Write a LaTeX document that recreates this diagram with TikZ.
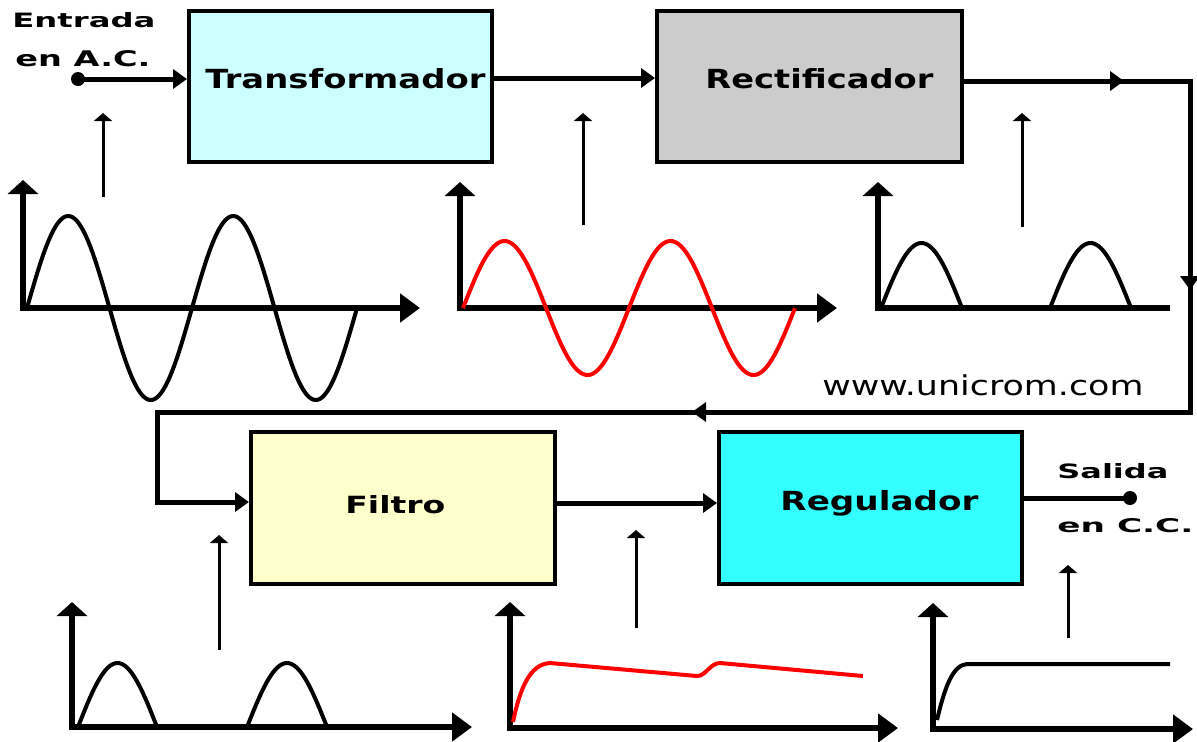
\documentclass[tikz,border=0pt]{standalone}
\usepackage{fontspec}
\setmainfont{DejaVu Sans}
\usepackage{graphicx}
\usetikzlibrary{arrows.meta}
\definecolor{tcol}{HTML}{CCFFFF}
\definecolor{rcol}{HTML}{CCCCCC}
\definecolor{fcol}{HTML}{FFFFCC}
\definecolor{gcol}{HTML}{33FFFF}
\definecolor{wred}{HTML}{FF0000}
\newcommand{\fitlbl}[3]{\resizebox{#1}{#2}{#3}}
\begin{document}
\begin{tikzpicture}[x=0.5pt,y=-0.5pt,
  box/.style={draw=black,line width=2pt,minimum width=#1,minimum height=75.5pt,inner sep=0pt},
  lbl/.style={inner sep=0pt,anchor=base west},
  dot/.style={circle,fill=black,inner sep=0pt,minimum size=7pt},
  conn/.style={line width=2.5pt,line join=miter},
  tip/.style={-{Triangle[length=7pt,width=9.5pt]}},
  sig/.style={line width=1.5pt,-{Triangle[length=4pt,width=9pt]}},
  axis/.style={line width=3pt,line join=miter},
  axboth/.style={{Triangle[length=7pt,width=15pt]}-{Triangle[length=10pt,width=14pt]}},
  axtop/.style={{Triangle[length=7pt,width=15pt]}-},
  wave/.style={line width=2pt,line join=round},
  rwave/.style={line width=2pt,draw=wred,line join=round}
]
\useasboundingbox (0,0) rectangle (1197,741);
\fill[white] (0,0) rectangle (1197,741);

% blocks
\node[box=151.5pt,fill=tcol] (T) at (340.5,86.5) {};
\node[box=152.5pt,fill=rcol] (R) at (809.5,86.5) {};
\node[box=152pt,minimum height=76pt,fill=fcol] (F) at (403,508) {};
\node[box=151.5pt,minimum height=76pt,fill=gcol] (G) at (870.5,508) {};

\node[lbl] (Tl) at (205,88) {\fitlbl{140pt}{10pt}{\textbf{Transformador}}};
\node[lbl] (Rl) at (705,88) {\fitlbl{114pt}{10pt}{\textbf{Rectificador}}};
\node[lbl] (Fl) at (345,513) {\fitlbl{50pt}{9pt}{\textbf{Filtro}}};
\node[lbl] (Gl) at (780,510) {\fitlbl{99pt}{10pt}{\textbf{Regulador}}};

\node[lbl] (in1) at (12,27) {\fitlbl{71.5pt}{7.5pt}{\textbf{Entrada}}};
\node[lbl] (in2) at (15,66) {\fitlbl{67.5pt}{8pt}{\textbf{en A.C.}}};
\node[lbl] (out1) at (1057,478) {\fitlbl{55.5pt}{7.5pt}{\textbf{Salida}}};
\node[lbl] (out2) at (1057,532) {\fitlbl{68pt}{7pt}{\textbf{en C.C.}}};
\node[lbl] (web) at (822,395) {\fitlbl{160.5pt}{10.4pt}{www.unicrom.com}};

\node[dot] (ind) at (78,79) {};
\node[dot] (outd) at (1130,498) {};

% connectors
\draw[conn,tip] (ind.center) -- (T.west |- ind.center);
\draw[conn,tip] ([yshift=4.25pt]T.east) -- ([yshift=4.25pt]R.west);
\coordinate (c1) at (1190,81);
\coordinate (c2) at (1190,412);
\coordinate (c3) at (157,412);
\coordinate (c4) at (157,502);
\coordinate (m1) at (1124,81);
\coordinate (m2) at (1190,290);
\coordinate (m3) at (692,412);
\draw[conn,tip] (R.east |- c1) -- (c1) -- (c2) -- (c3) -- (c4) -- (F.west |- c4);
\draw[conn,tip] (R.east |- c1) -- (m1);
\draw[conn,tip] (c1) -- (m2);
\draw[conn,tip] (c2) -- (m3);
\draw[conn,tip] ([yshift=2.5pt]F.east) -- ([yshift=2.5pt]G.west);
\draw[conn] (G.east |- outd) -- (outd.center);

% signal pointers
\draw[sig] (103,197) -- (103,113);
\draw[sig] (583,225) -- (583,113);
\draw[sig] (1022,227) -- (1022,113);
\draw[sig] (219,650) -- (219,535);
\draw[sig] (636,628) -- (636,530);
\draw[sig] (1068,638) -- (1068,565);

% graph 1: AC input
\draw[axis,axboth] (23,180) -- (23,308) -- (420,308);
\draw[wave] plot[domain=0:4,samples=161,smooth] ({27+82.5*\x},{308-92*sin(180*\x)});

% graph 2: transformer output
\draw[axis,axboth] (460,182) -- (460,308) -- (837,308);
\draw[rwave] plot[domain=0:4,samples=161,smooth] ({463+83*\x},{308-67*sin(180*\x)});

% graph 3: rectified
\draw[axis,axtop] (878,182) -- (878,308) -- (1170,308);
\draw[wave] plot[domain=0:1,samples=41,smooth] ({881+81*\x},{308-65*sin(180*\x)});
\draw[wave] plot[domain=0:1,samples=41,smooth] ({1050+81*\x},{308-65*sin(180*\x)});

% graph 4: rectified (filter input)
\draw[axis,axboth] (72,602) -- (72,727) -- (472,727);
\draw[wave] plot[domain=0:1,samples=41,smooth] ({78+79*\x},{727-64*sin(180*\x)});
\draw[wave] plot[domain=0:1,samples=41,smooth] ({247+80*\x},{727-64*sin(180*\x)});

% graph 5: filtered
\draw[axis,axboth] (510,602) -- (510,728) -- (898,728);
\draw[rwave] (513,722) .. controls (520,688) and (530,664) .. (550,663)
  -- (697,676) .. controls (706,676) and (710,663) .. (720,663) -- (863,676);

% graph 6: regulated
\draw[axis,axboth] (933,603) -- (933,729) -- (1193,729);
\draw[wave] (937,720) .. controls (945,686) and (953,665) .. (967,664) -- (1170,664);
\end{tikzpicture}
\end{document}
